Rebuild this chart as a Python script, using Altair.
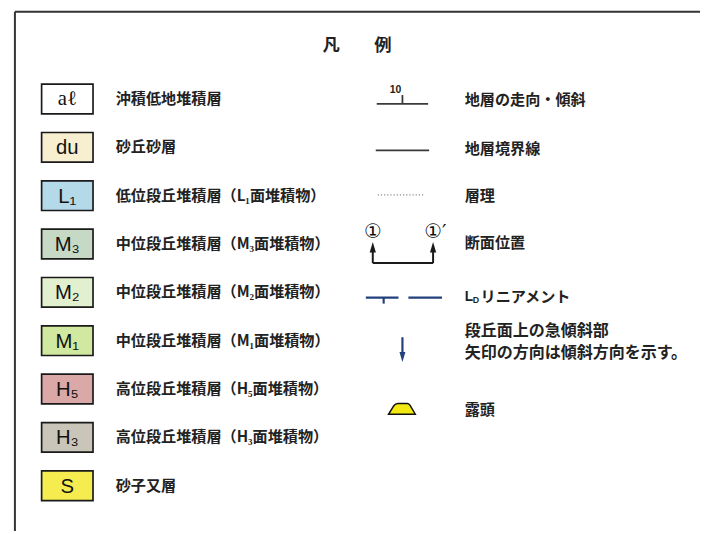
import altair as alt
import pandas as pd

# ---------------- data ----------------
title_text = "凡　　例"
box_labels = ["aℓ", "du", "L₁", "M₃", "M₂", "M₁", "H₅", "H₃", "S"]
box_colors = ["#ffffff", "#f7efd0", "#b4d9e8", "#c6d9c4", "#e3f0cf",
              "#d0e89f", "#daa8a7", "#c9c6b9", "#f5ed50"]
unit_names = ["沖積低地堆積層", "砂丘砂層",
              "低位段丘堆積層（L₁面堆積物）", "中位段丘堆積層（M₃面堆積物）",
              "中位段丘堆積層（M₂面堆積物）", "中位段丘堆積層（M₁面堆積物）",
              "高位段丘堆積層（H₅面堆積物）", "高位段丘堆積層（H₃面堆積物）",
              "砂子又層"]
symbol_names = ["地層の走向・傾斜", "地層境界線", "層理", "断面位置", "リニアメント",
                "段丘面上の急傾斜部", "矢印の方向は傾斜方向を示す。", "露頭"]
dip_value = ["10"]
section_labels = ["①", "①′"]
lineament_prefix = ["L", "D"]

# ---------------- layout ----------------
row_y = [97 + i * 48.9 for i in range(len(box_labels))]
sym_y = [98, 148, 195, 243, 297, 332, 354, 412]

XS = alt.Scale(domain=[8, 708], nice=False, zero=False)
YS = alt.Scale(domain=[8, 534], nice=False, zero=False, reverse=True)


def X(f="x"):
    return alt.X(f"{f}:Q", scale=XS, axis=None)


def Y(f="y"):
    return alt.Y(f"{f}:Q", scale=YS, axis=None)


def rules(segs, **kw):
    df = pd.DataFrame(segs, columns=["x", "y", "x2", "y2"])
    return alt.Chart(df).mark_rule(**kw).encode(
        x=X(), y=Y(), x2=alt.X2("x2:Q"), y2=alt.Y2("y2:Q"))


def texts(df, **kw):
    return alt.Chart(df).mark_text(**kw).encode(x=X(), y=Y(), text="t:N")


CJK = "Noto Sans CJK JP"
INK = "#222222"

# frame
frame = rules([[15, 8.8, 15, 534], [15, 8.8, 708, 8.8]], color="#333333", strokeWidth=2)

# title
title = texts(pd.DataFrame({"x": [361], "y": [43], "t": [title_text]}),
              font=CJK, fontWeight="bold", fontSize=17.5, color=INK)

# unit boxes
units = pd.DataFrame({
    "label": box_labels, "color": box_colors, "name": unit_names,
    "yc": row_y,
})
units["y0"] = units["yc"] - 15
units["y1"] = units["yc"] + 15
units["x0"] = 42
units["x1"] = 94
units["xl"] = 68
units["xt"] = 117

boxes = alt.Chart(units).mark_rect(stroke="#1a1a1a", strokeWidth=1.7).encode(
    x=X("x0"), x2=alt.X2("x1:Q"), y=Y("y0"), y2=alt.Y2("y1:Q"),
    color=alt.Color("color:N", scale=None))

box_txt_serif = alt.Chart(units.iloc[[0]]).mark_text(
    font="Liberation Serif", fontSize=21, color="#111111").encode(
    x=X("xl"), y=Y("yc"), text="label:N")
box_txt = alt.Chart(units.iloc[1:]).mark_text(
    font="Liberation Sans", fontSize=20.5, color="#111111", dy=1).encode(
    x=X("xl"), y=Y("yc"), text="label:N")

unit_txt = alt.Chart(units).mark_text(
    align="left", font=CJK, fontWeight="bold", fontSize=15.3, color=INK).encode(
    x=X("xt"), y=Y("yc"), text="name:N")

# right column texts
sym_df = pd.DataFrame({"x": [470] * len(symbol_names), "y": sym_y, "t": symbol_names})
sym_df.loc[4, "x"] = 486
sym_txt_single = texts(sym_df.drop(index=[5, 6]), align="left", font=CJK,
                       fontWeight="bold", fontSize=15.3, color=INK)
sym_txt_wide = texts(sym_df.loc[[5, 6]], align="left", font=CJK, fontWeight="bold",
                     fontSize=16.2, color=INK)
lin_L = texts(pd.DataFrame({"x": [470], "y": [297], "t": [lineament_prefix[0]]}),
              align="left", font="Liberation Sans", fontWeight="bold", fontSize=14, color=INK)
lin_D = texts(pd.DataFrame({"x": [478], "y": [300], "t": [lineament_prefix[1]]}),
              align="left", font="Liberation Sans", fontWeight="bold", fontSize=9, color=INK)

# strike & dip
strike = rules([[381, 102, 433, 102], [407, 93, 407, 102]], color="#3a3a3a", strokeWidth=1.8)
dip_txt = texts(pd.DataFrame({"x": [400], "y": [88], "t": dip_value}),
                font="Liberation Sans", fontWeight="bold", fontSize=10.5, color=INK)
# boundary
boundary = rules([[380, 149, 434, 149]], color="#3a3a3a", strokeWidth=1.8)
# bedding
bedding = rules([[382, 194, 428, 194]], color="#8a8a8a", strokeWidth=1.2, strokeDash=[1.2, 2])
# section line
section = rules([[377, 263, 438, 263], [377, 263, 377, 250], [438, 263, 438, 250]],
                color="#1a1a1a", strokeWidth=2)
heads_up = alt.Chart(pd.DataFrame({"x": [377, 438], "y": [247, 247]})).mark_point(
    shape="M0,-1 L0.6,1 L-0.6,1 Z", size=110, filled=True, color="#1a1a1a", opacity=1).encode(
    x=X(), y=Y())
sec_a = texts(pd.DataFrame({"x": [377], "y": [232], "t": [section_labels[0]]}),
              font="DejaVu Sans", fontSize=20, color="#111111")
sec_b = texts(pd.DataFrame({"x": [429], "y": [232], "t": [section_labels[1]]}),
              align="left", font="DejaVu Sans", fontSize=20, color="#111111")
# lineament
NAVY = "#22407c"
lineament = rules([[370, 298, 403, 298], [388, 298, 388, 304], [413, 298, 447, 298]],
                  color=NAVY, strokeWidth=2.2)
# steep slope arrow
arrow = rules([[407, 338, 407, 357]], color=NAVY, strokeWidth=2.2)
head_dn = alt.Chart(pd.DataFrame({"x": [407], "y": [358]})).mark_point(
    shape="M0,1 L0.6,-1 L-0.6,-1 Z", size=100, filled=True, color=NAVY, opacity=1).encode(
    x=X(), y=Y())
# outcrop
outcrop = alt.Chart(pd.DataFrame({"x": [406.5], "y": [410.5]})).mark_point(
    shape="M-1,0.4 L-0.62,-0.22 Q-0.5,-0.4 -0.3,-0.4 L0.4,-0.4 Q0.5,-0.4 0.6,-0.28 L1,0.4 Z",
    size=729, filled=True, fill="#f2e812", stroke="#111111", strokeWidth=1.5, opacity=1).encode(
    x=X(), y=Y())

chart = alt.layer(
    frame, title, boxes, box_txt_serif, box_txt, unit_txt,
    sym_txt_single, sym_txt_wide, lin_L, lin_D,
    strike, dip_txt, boundary, bedding, section, heads_up, sec_a, sec_b,
    lineament, arrow, head_dn, outcrop,
).properties(
    width=700, height=526, padding=0,
    autosize=alt.AutoSizeParams(type="none"),
    background="white",
).configure_view(stroke=None)

chart.save("out.html", embed_options={"renderer": "svg", "actions": False})
